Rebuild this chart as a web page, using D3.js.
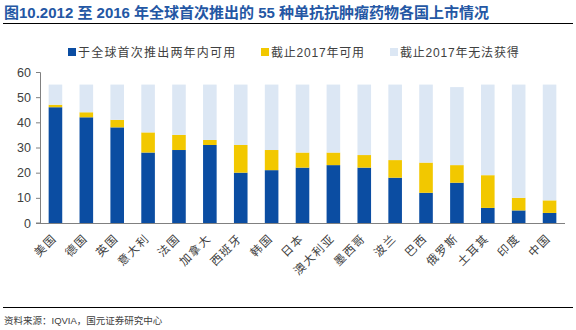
<!DOCTYPE html>
<html>
<head>
<meta charset="utf-8">
<script src="https://cdn.jsdelivr.net/npm/d3@7"></script>
<style>
  body { margin: 0; background: #fff; }
  text { font-family: "Liberation Sans", "Noto Sans CJK SC", sans-serif; }
  .cjk { font-family: "Noto Sans CJK SC", sans-serif; }
</style>
</head>
<body>
<svg id="chart"></svg>
<script>
// countries and the three stacked counts (out of 55 drugs)
var countries = ["美国", "德国", "英国", "意大利", "法国", "加拿大", "西班牙", "韩国", "日本",
                 "澳大利亚", "墨西哥", "波兰", "巴西", "俄罗斯", "土耳其", "印度", "中国"];
var withinTwoYears = [46, 42, 38, 28, 29, 31, 20, 21, 22, 23, 22, 18, 12, 16, 6, 5, 4];
var by2017 =         [1, 2, 3, 8, 6, 2, 11, 8, 6, 5, 5, 7, 12, 7, 13, 5, 5];
var notAvailable =   [8, 11, 14, 19, 20, 22, 24, 26, 27, 27, 28, 30, 31, 31, 36, 45, 46];
var seriesNames = ["于全球首次推出两年内可用", "截止2017年可用", "截止2017年无法获得"];
var seriesColors = ["#0B4DA2", "#F2C800", "#DCE7F4"];
var yTicks = [0, 10, 20, 30, 40, 50, 60];

var screen = {width: 576, height: 330};
var margins = {top: 72, right: 11, bottom: 107, left: 40};

var svg = d3.select("#chart")
    .attr("width", screen.width)
    .attr("height", screen.height);

// header
svg.append("text")
    .attr("x", 4).attr("y", 17.5)
    .attr("fill", "#2457A4")
    .attr("font-size", 15)
    .attr("font-weight", "bold")
    .text("图10.2012 至 2016 年全球首次推出的 55 种单抗抗肿瘤药物各国上市情况");
svg.append("line")
    .attr("x1", 3).attr("x2", 573).attr("y1", 23.5).attr("y2", 23.5)
    .attr("stroke", "#000").attr("stroke-width", 1.2);

var width = screen.width - margins.left - margins.right;
var height = screen.height - margins.top - margins.bottom;

var rows = countries.map(function(c, i) {
    return {country: c, a: withinTwoYears[i], b: by2017[i], c: notAvailable[i]};
});
var stack = d3.stack().keys(["a", "b", "c"])(rows);

var xScale = d3.scaleBand().domain(countries).range([0, width]).paddingInner(0.56).paddingOuter(0.28);
var yScale = d3.scaleLinear().domain([0, 60]).range([height, 0]);

var graph = svg.append("g")
    .attr("transform", "translate(" + margins.left + "," + margins.top + ")");

graph.selectAll("g.layer")
    .data(stack)
    .enter()
    .append("g")
    .attr("class", "layer")
    .attr("fill", function(d, i) { return seriesColors[i]; })
    .selectAll("rect")
    .data(function(d) { return d; })
    .enter()
    .append("rect")
    .attr("x", function(d) { return xScale(d.data.country); })
    .attr("width", xScale.bandwidth())
    .attr("y", function(d) { return yScale(d[1]); })
    .attr("height", function(d) { return yScale(d[0]) - yScale(d[1]); });

// y axis
var yAxis = d3.axisLeft(yScale).tickValues(yTicks).tickSize(4).tickPadding(5);
var yg = graph.append("g").call(yAxis);
yg.select(".domain").attr("stroke", "#808080").attr("d", "M-4,0.5H0.5V" + height + "H-4");
yg.selectAll(".tick line").attr("stroke", "#808080");
yg.selectAll(".tick text").attr("fill", "#404040").attr("font-size", 12.5)
    .attr("font-family", "Liberation Sans, Arial, sans-serif");

// x axis line and rotated labels
var xg = graph.append("g").attr("transform", "translate(0," + height + ")");
xg.append("line").attr("x1", 0).attr("x2", width).attr("y1", 0.5).attr("y2", 0.5)
    .attr("stroke", "#808080").attr("stroke-width", 1.2);
xg.selectAll("text")
    .data(countries)
    .enter()
    .append("text")
    .attr("class", "cjk")
    .attr("transform", function(d) {
        return "translate(" + (xScale(d) + xScale.bandwidth() / 2 + 2) + ",16) rotate(-45)";
    })
    .attr("text-anchor", "end")
    .attr("font-size", 11.5)
    .attr("letter-spacing", 1.5)
    .attr("fill", "#404040")
    .text(function(d) { return d; });

// legend
var legendX = [68, 261, 390];
var legend = svg.selectAll("g.legend")
    .data(seriesNames)
    .enter()
    .append("g")
    .attr("class", "legend")
    .attr("transform", function(d, i) { return "translate(" + legendX[i] + ",52)"; });
legend.append("rect")
    .attr("x", 0).attr("y", -4).attr("width", 8).attr("height", 8)
    .attr("fill", function(d, i) { return seriesColors[i]; });
legend.append("text")
    .attr("x", 10).attr("y", 4.5)
    .attr("font-size", 12)
    .attr("letter-spacing", function(d, i) { return i === 0 ? 1.2 : 0.8; })
    .attr("fill", "#404040")
    .text(function(d) { return d; });

// footer
svg.append("line")
    .attr("x1", 3).attr("x2", 573).attr("y1", 307.5).attr("y2", 307.5)
    .attr("stroke", "#000").attr("stroke-width", 1.2);
svg.append("text")
    .attr("x", 4).attr("y", 324)
    .attr("font-size", 9.5)
    .attr("fill", "#404040")
    .text("资料来源：IQVIA，国元证券研究中心");
</script>
</body>
</html>
